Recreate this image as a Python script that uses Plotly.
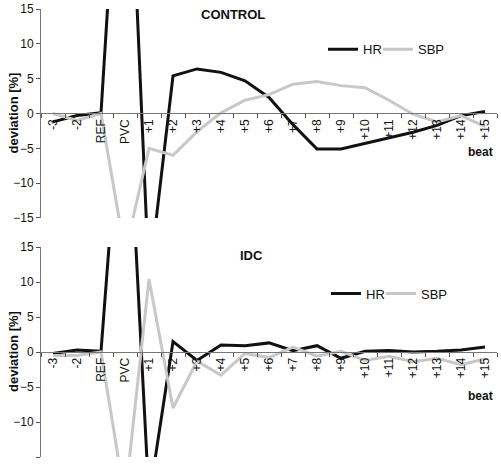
import plotly.graph_objects as go

beats = ["-3", "-2", "REF", "PVC", "+1", "+2", "+3", "+4", "+5", "+6", "+7",
         "+8", "+9", "+10", "+11", "+12", "+13", "+14", "+15"]

control_hr = [-1.2, -0.3, 0.1, 55, -24, 5.4, 6.4, 5.9, 4.7, 2.3, -1.6,
              -5.1, -5.1, -4.3, -3.6, -2.7, -1.7, -0.3, 0.3]
control_sbp = [0.0, -1.0, 0.0, -20, -5.0, -6.0, -2.6, 0.1, 1.9, 2.7, 4.2,
               4.6, 4.0, 3.7, 1.9, -0.1, -1.2, -0.3, -1.9]

idc_hr = [-0.2, 0.3, 0.1, 45, -21, 1.5, -1.2, 1.0, 0.9, 1.3, 0.2,
          0.9, -0.9, 0.1, 0.2, 0.0, 0.1, 0.3, 0.7]
idc_sbp = [-0.5, -0.5, 0.0, -21, 10.4, -8.0, -1.3, -3.3, -0.2, -0.8, 0.7,
           -0.6, 0.1, -1.2, -0.6, -1.4, -0.9, -1.8, -1.0]

yticks = [-15, -10, -5, 0, 5, 10, 15]

FONT = "Arial, Liberation Sans, sans-serif"
HR_COLOR = "#111111"
SBP_COLOR = "#c8c8c8"

fig = go.Figure()
fig.add_trace(go.Scatter(x=beats, y=control_hr, mode="lines", name="HR",
                         line=dict(color=HR_COLOR, width=3), xaxis="x", yaxis="y",
                         legend="legend", showlegend=True))
fig.add_trace(go.Scatter(x=beats, y=control_sbp, mode="lines", name="SBP",
                         line=dict(color=SBP_COLOR, width=3), xaxis="x", yaxis="y",
                         legend="legend2", showlegend=True))
fig.add_trace(go.Scatter(x=beats, y=idc_hr, mode="lines", name="HR",
                         line=dict(color=HR_COLOR, width=3), xaxis="x2", yaxis="y2",
                         legend="legend3", showlegend=True))
fig.add_trace(go.Scatter(x=beats, y=idc_sbp, mode="lines", name="SBP",
                         line=dict(color=SBP_COLOR, width=3), xaxis="x2", yaxis="y2",
                         legend="legend4", showlegend=True))

top_dom = [0.5335, 1.0]
bot_dom = [0.0, 0.46875]

xcommon = dict(type="category", categoryorder="array", categoryarray=beats,
               tickson="boundaries", ticks="outside", ticklen=4, tickcolor="#555555",
               showline=True, linecolor="#777777", linewidth=1, showgrid=False,
               zeroline=False, tickangle=-90, tickfont=dict(family=FONT, size=12, color="#111111"),
               anchor="free", range=[-0.5, len(beats) - 0.5], automargin=False)
ycommon = dict(range=[-15, 15], tickvals=yticks, ticks="outside", ticklen=4,
               tickcolor="#555555", showline=True, linecolor="#777777", linewidth=1,
               showgrid=False, zeroline=False, automargin=False,
               tickfont=dict(family=FONT, size=12, color="#111111"))

plot_w = 501 - 41 - 4


def px_x(px):
    return (px - 41) / plot_w


legend_common = dict(orientation="h", xanchor="left", yanchor="middle",
                     font=dict(family=FONT, size=13, color="#111111"),
                     bgcolor="rgba(0,0,0,0)", itemwidth=30, tracegroupgap=0,
                     visible=True)

fig.update_layout(
    width=501, height=464,
    showlegend=True,
    margin=dict(l=41, r=4, t=9, b=7),
    paper_bgcolor="white", plot_bgcolor="white",
    font=dict(family=FONT, color="#111111"),
    xaxis=dict(xcommon, position=(top_dom[0] + top_dom[1]) / 2),
    yaxis=dict(ycommon, domain=top_dom, anchor="x"),
    xaxis2=dict(xcommon, position=(bot_dom[0] + bot_dom[1]) / 2),
    yaxis2=dict(ycommon, domain=bot_dom, anchor="x2"),
    legend=dict(legend_common, x=px_x(323), y=0.91),
    legend2=dict(legend_common, x=px_x(378), y=0.91),
    legend3=dict(legend_common, x=px_x(326), y=0.365),
    legend4=dict(legend_common, x=px_x(381), y=0.365),
    annotations=[
        dict(text="<b>CONTROL</b>", x=px_x(233), xref="paper", y=1.0, yref="paper",
             showarrow=False, font=dict(family=FONT, size=13, color="#111111"),
             xanchor="center", yanchor="top", yshift=4),
        dict(text="<b>IDC</b>", x=px_x(251), xref="paper", y=0.472, yref="paper",
             showarrow=False, font=dict(family=FONT, size=13, color="#111111"),
             xanchor="center", yanchor="top"),
        dict(text="<b>beat</b>", x=0.995, xref="paper", y=0.68, yref="paper",
             showarrow=False, font=dict(family=FONT, size=12, color="#111111"),
             xanchor="right", yanchor="middle"),
        dict(text="<b>beat</b>", x=0.995, xref="paper", y=0.136, yref="paper",
             showarrow=False, font=dict(family=FONT, size=12, color="#111111"),
             xanchor="right", yanchor="middle"),
        dict(text="<b>deviation [%]</b>", x=px_x(13), xref="paper",
             y=(top_dom[0] + top_dom[1]) / 2, yref="paper", textangle=-90,
             showarrow=False, font=dict(family=FONT, size=13, color="#111111"),
             xanchor="center", yanchor="middle"),
        dict(text="<b>deviation [%]</b>", x=px_x(13), xref="paper",
             y=(bot_dom[0] + bot_dom[1]) / 2, yref="paper", textangle=-90,
             showarrow=False, font=dict(family=FONT, size=13, color="#111111"),
             xanchor="center", yanchor="middle"),
    ],
)

fig.write_html("out.html", config={"displayModeBar": False},
               post_script="document.body.style.margin='0';document.body.style.overflow='hidden';")
